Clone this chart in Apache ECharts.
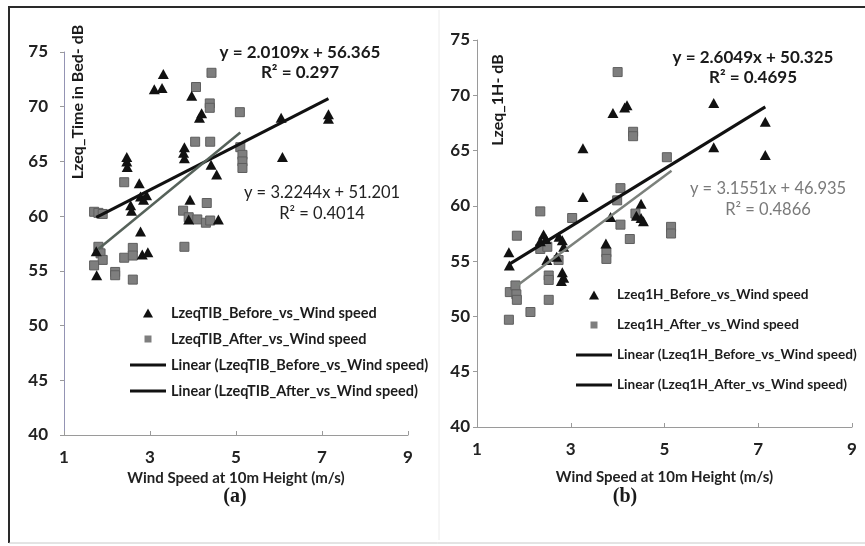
<!DOCTYPE html>
<html>
<head>
<meta charset="utf-8">
<script src="https://cdn.jsdelivr.net/npm/echarts@6/dist/echarts.min.js"></script>
<style>
  html, body { margin: 0; padding: 0; background: #fff; }
  #chart { width: 865px; height: 546px; }
</style>
</head>
<body>
<div id="chart"></div>
<script>
// ---- Panel (a): Lzeq over time in bed vs wind speed ----
const windBeforeA = [3.31, 3.1, 3.28, 3.97, 4.2, 4.15, 6.05, 7.15, 7.15, 6.08, 3.8, 3.78, 3.8, 2.46, 2.46, 2.47, 2.75, 2.55, 2.57, 2.78, 2.85, 2.92, 4.42, 4.55, 3.93, 3.9, 4.59, 2.78, 2.82, 2.95, 1.76, 1.75];
const lzeqBeforeA = [73.0, 71.6, 71.7, 71.0, 69.4, 69.0, 69.0, 69.3, 68.9, 65.4, 66.3, 65.8, 65.3, 65.4, 65.0, 64.5, 63.0, 61.0, 60.5, 61.8, 61.5, 61.9, 64.7, 63.8, 61.5, 59.7, 59.7, 58.6, 56.5, 56.7, 54.6, 56.8];
const windAfterA = [4.43, 4.07, 4.39, 4.39, 5.09, 4.05, 4.4, 5.1, 5.15, 5.15, 5.15, 2.4, 4.32, 3.77, 3.9, 4.1, 4.3, 4.4, 3.8, 1.7, 1.8, 1.9, 1.8, 1.85, 1.9, 1.7, 2.19, 2.19, 2.4, 2.6, 2.6, 2.6];
const lzeqAfterA = [73.1, 71.8, 70.3, 69.9, 69.5, 66.8, 66.8, 66.3, 65.6, 65.0, 64.4, 63.1, 61.2, 60.5, 59.9, 59.7, 59.4, 59.6, 57.2, 60.4, 60.3, 60.2, 57.2, 56.6, 56.0, 55.5, 54.9, 54.6, 56.2, 57.1, 56.4, 54.2];
// linear fits: [slope, intercept, R²] and x-span of each fitted line
const fitBeforeA = [2.0109, 56.365, 0.297];
const fitAfterA = [3.2244, 51.201, 0.4014];
const spanBeforeA = [1.75, 7.15];
const spanAfterA = [1.8, 5.1];

// ---- Panel (b): Lzeq over 1 hour vs wind speed ----
const windBeforeB = [6.05, 3.9, 4.15, 4.2, 7.15, 7.15, 6.05, 3.26, 3.26, 4.5, 4.4, 4.5, 4.55, 3.85, 3.75, 1.68, 1.69, 2.42, 2.47, 2.35, 2.75, 2.82, 2.85, 2.49, 2.7, 2.82, 2.85, 2.8];
const lzeqBeforeB = [69.3, 68.4, 68.9, 69.1, 67.6, 64.6, 65.3, 65.2, 60.8, 60.2, 59.1, 58.9, 58.6, 59.0, 56.6, 55.8, 54.6, 57.4, 57.0, 56.8, 57.2, 56.9, 56.3, 55.1, 55.4, 54.0, 53.5, 53.2];
const windAfterB = [4.0, 4.33, 4.33, 5.05, 4.06, 3.99, 4.06, 4.26, 5.14, 5.14, 4.38, 3.76, 3.76, 3.03, 2.35, 1.85, 2.35, 2.5, 2.53, 2.53, 2.53, 2.14, 1.68, 1.7, 1.82, 1.84, 1.85, 2.74];
const lzeqAfterB = [72.1, 66.7, 66.3, 64.4, 61.6, 60.5, 58.3, 57.0, 58.1, 57.5, 59.3, 55.8, 55.2, 58.9, 59.5, 57.3, 56.1, 56.3, 53.7, 53.3, 51.5, 50.4, 49.7, 52.2, 52.8, 52.0, 51.5, 55.1];
const fitBeforeB = [2.6049, 50.325, 0.4695];
const fitAfterB = [3.1551, 46.935, 0.4866];
const spanBeforeB = [1.7, 7.15];
const spanAfterB = [1.85, 5.15];

// axis ranges and tick steps
const xRange = [1, 9, 2];
const yRange = [40, 75, 5];
const xTitle = 'Wind Speed at 10m Height (m/s)';
const yTitleA = 'Lzeq_Time in Bed- dB';
const yTitleB = 'Lzeq_1H- dB';
const namesA = ['LzeqTIB_Before_vs_Wind speed', 'LzeqTIB_After_vs_Wind speed'];
const namesB = ['Lzeq1H_Before_vs_Wind speed', 'Lzeq1H_After_vs_Wind speed'];

const SANS = 'Lato, "Open Sans", sans-serif';
const zip = (xs, ys) => xs.map((x, i) => [x, ys[i]]);
const fitLine = (fit, span) => span.map(x => [x, fit[0] * x + fit[1]]);
const eqText = fit => 'y = ' + fit[0] + 'x + ' + fit[1];
const r2Text = fit => 'R\u00b2 = ' + fit[2];

function xAxisFor(gridIndex, gap) {
  return {
    type: 'value', gridIndex, min: xRange[0], max: xRange[1], interval: xRange[2],
    name: xTitle, nameLocation: 'middle', nameGap: gap,
    nameTextStyle: { fontFamily: SANS, fontWeight: 'bold', fontSize: 15, color: '#222' },
    axisLine: { show: true, lineStyle: { color: '#9a9a9a', width: 1 } },
    axisTick: { show: true, inside: true, length: 4, lineStyle: { color: '#9a9a9a' } },
    axisLabel: { margin: 14, fontFamily: SANS, fontWeight: 'bold', fontSize: 17, color: '#222' },
    splitLine: { show: false }
  };
}
function yAxisFor(gridIndex, margin, lineColor) {
  return {
    type: 'value', gridIndex, min: yRange[0], max: yRange[1], interval: yRange[2],
    axisLine: { show: true, lineStyle: { color: lineColor, width: 1 } },
    axisTick: { show: true, length: 4, lineStyle: { color: '#9a9a9a' } },
    axisLabel: { margin, fontFamily: SANS, fontWeight: 'bold', fontSize: 17, color: '#222' },
    splitLine: { show: false }
  };
}
function triangles(name, idx, data) {
  return {
    type: 'scatter', name, xAxisIndex: idx, yAxisIndex: idx, data,
    symbol: 'triangle', symbolSize: [11, 10],
    itemStyle: { color: '#111', opacity: 1 }, z: 3
  };
}
function squares(name, idx, data) {
  return {
    type: 'scatter', name, xAxisIndex: idx, yAxisIndex: idx, data,
    symbol: 'rect', symbolSize: 9,
    itemStyle: { color: '#7e7e7e', borderColor: '#5e5e5e', borderWidth: 1, opacity: 1 }, z: 2
  };
}
function trend(name, idx, data, color, width) {
  return {
    type: 'line', name, xAxisIndex: idx, yAxisIndex: idx, data,
    symbol: 'none', silent: true, z: 4,
    lineStyle: { color, width }, itemStyle: { color }
  };
}
// legend icons share one 36x9 box so each keeps its own proportions
const iconBox = 'M0,0L0,0M36,9L36,9';
const triIcon = 'path://' + iconBox + 'M13,9L18,0L23,9Z';
const sqIcon = 'path://' + iconBox + 'M14.5,1H21.5V8H14.5Z';
const lineIcon = 'path://' + iconBox + 'M0,3H36V6H0Z';
function legendFor(names, left, top, gap, size) {
  const plain = { borderWidth: 0 };
  return {
    orient: 'vertical', left, top, itemWidth: 36, itemHeight: 9, itemGap: gap,
    selectedMode: false,
    textStyle: { fontFamily: SANS, fontWeight: 'bold', fontSize: size, lineHeight: 16, color: '#1c1c1c' },
    data: [
      { name: names[0], icon: triIcon, itemStyle: Object.assign({ color: '#111' }, plain) },
      { name: names[1], icon: sqIcon, itemStyle: Object.assign({ color: '#7e7e7e' }, plain) },
      { name: 'Linear (' + names[0] + ')', icon: lineIcon, itemStyle: Object.assign({ color: '#111' }, plain) },
      { name: 'Linear (' + names[1] + ')', icon: lineIcon, itemStyle: Object.assign({ color: '#111' }, plain) }
    ]
  };
}
function label(text, x, y, opts) {
  return {
    type: 'text', x, y, rotation: opts.rotation || 0, silent: true,
    style: Object.assign({
      text, fontFamily: SANS, fontSize: 16, fontWeight: 'bold', fill: '#1a1a1a',
      textAlign: 'center', textVerticalAlign: 'middle'
    }, opts.style || {})
  };
}
const boldEq = { fontSize: 17 };
const regularEq = { fontWeight: 'normal', fontSize: 16.5, fill: '#222' };
const grayEq = { fontWeight: 'normal', fontSize: 16.5, fill: '#7a7a7a' };
const serif = { fontFamily: '"Liberation Serif", "DejaVu Serif", serif', fontSize: 20 };

const option = {
  animation: false,
  backgroundColor: '#fff',
  grid: [
    { left: 64, top: 52, width: 344, height: 383 },
    { left: 477, top: 40, width: 375, height: 387 }
  ],
  xAxis: [xAxisFor(0, 35), xAxisFor(1, 43)],
  yAxis: [yAxisFor(0, 16, '#9494b4'), yAxisFor(1, 7, '#9a9a9a')],
  legend: [legendFor(namesA, 125, 300, 10, 14.5), legendFor(namesB, 571, 282, 14, 13.6)],
  series: [
    triangles(namesA[0], 0, zip(windBeforeA, lzeqBeforeA)),
    squares(namesA[1], 0, zip(windAfterA, lzeqAfterA)),
    trend('Linear (' + namesA[0] + ')', 0, fitLine(fitBeforeA, spanBeforeA), '#111', 3),
    trend('Linear (' + namesA[1] + ')', 0, fitLine(fitAfterA, spanAfterA), '#56625a', 2.5),
    triangles(namesB[0], 1, zip(windBeforeB, lzeqBeforeB)),
    squares(namesB[1], 1, zip(windAfterB, lzeqAfterB)),
    trend('Linear (' + namesB[0] + ')', 1, fitLine(fitBeforeB, spanBeforeB), '#111', 3),
    trend('Linear (' + namesB[1] + ')', 1, fitLine(fitAfterB, spanAfterB), '#7c817c', 2.5)
  ],
  graphic: [
    // outer frame
    { type: 'polyline', silent: true, shape: { points: [[9, 543], [9, 7], [866, 7]] }, style: { stroke: '#2a2a2a', lineWidth: 2, fill: null } },
    { type: 'line', silent: true, shape: { x1: 9, y1: 543, x2: 866, y2: 543 }, style: { stroke: '#c8c8c8', lineWidth: 1 } },
    { type: 'line', silent: true, shape: { x1: 439, y1: 10, x2: 439, y2: 540 }, style: { stroke: '#ececec', lineWidth: 1 } },
    // axis titles
    label(yTitleA, 78, 102, { rotation: Math.PI / 2 }),
    label(yTitleB, 498, 100, { rotation: Math.PI / 2 }),
    // fitted-line equations, panel (a)
    label(eqText(fitBeforeA), 300, 53, { style: boldEq }),
    label(r2Text(fitBeforeA), 300, 73, { style: boldEq }),
    label(eqText(fitAfterA), 322, 193, { style: regularEq }),
    label(r2Text(fitAfterA), 322, 214, { style: regularEq }),
    // fitted-line equations, panel (b)
    label(eqText(fitBeforeB), 753, 58, { style: boldEq }),
    label(r2Text(fitBeforeB), 753, 78, { style: boldEq }),
    label(eqText(fitAfterB), 768, 189, { style: grayEq }),
    label(r2Text(fitAfterB), 768, 210, { style: grayEq }),
    // panel captions
    label('(a)', 235, 497, { style: serif }),
    label('(b)', 625, 497, { style: serif })
  ]
};

const chart = echarts.init(document.getElementById('chart'), null, { renderer: 'canvas' });
chart.setOption(option);
</script>
</body>
</html>
